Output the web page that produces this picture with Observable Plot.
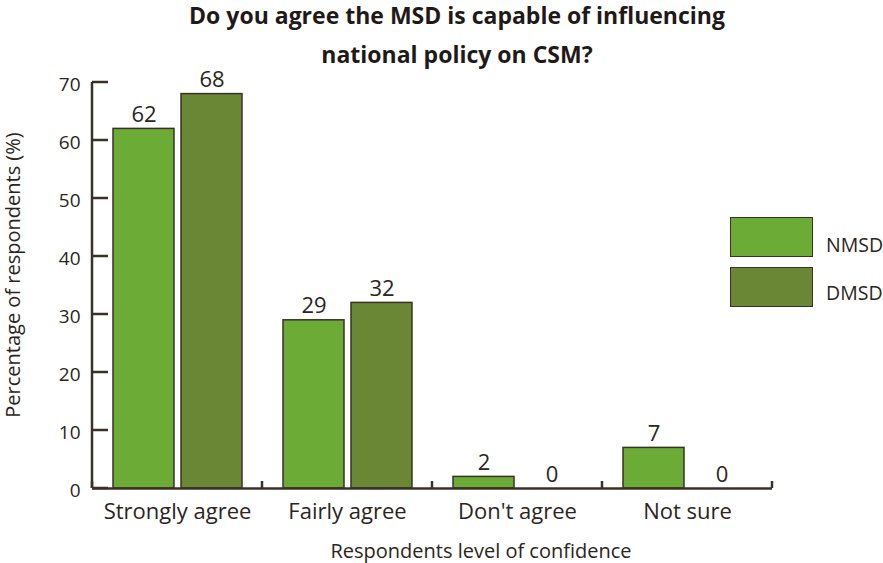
<!DOCTYPE html>
<html><head><meta charset="utf-8">
<script src="https://cdn.jsdelivr.net/npm/d3@7"></script>
<script src="https://cdn.jsdelivr.net/npm/@observablehq/plot@0.6"></script>
<style>
body{margin:0;background:#fff;font-family:"Open Sans",sans-serif;color:#2b2520}
#wrap{position:relative;width:883px;height:563px;overflow:hidden}
#title{position:absolute;left:0;top:-4px;width:914px;text-align:center;font-weight:bold;font-size:23px;line-height:39px;color:#1f1a17;z-index:2}
#plot{position:absolute;left:0;top:40px}
#xtitle{position:absolute;left:0;width:962px;top:538px;text-align:center;font-size:20px;line-height:26px}
.leg-box{position:absolute;left:730px;width:83px;height:40px;border:1.5px solid #3b3127;box-sizing:border-box}
.leg-txt{position:absolute;left:826px;font-size:19.5px;line-height:26px}
</style></head>
<body>
<div id="wrap">
  <div id="title">Do you agree the MSD is capable of influencing<br>national policy on CSM?</div>
  <div id="plot"></div>
  <div id="xtitle">Respondents level of confidence</div>
  <div id="legend"></div>
</div>
<script>
const categories = ["Strongly agree", "Fairly agree", "Don't agree", "Not sure"];
const series = ["NMSD", "DMSD"];
const nmsdValues = [62, 29, 2, 7];
const dmsdValues = [68, 32, 0, 0];
const yTicks = [0, 10, 20, 30, 40, 50, 60, 70];
const seriesColors = ["#6bab36", "#6a8735"];

const data = [];
categories.forEach((c, i) => {
  data.push({category: c, series: "NMSD", value: nmsdValues[i]});
  data.push({category: c, series: "DMSD", value: dmsdValues[i]});
});

const ink = "#3b3127";
const chart = Plot.plot({
  width: 883,
  height: 523,
  marginTop: 42,
  marginBottom: 75,
  marginLeft: 92,
  marginRight: 111,
  style: {fontFamily: "'Open Sans', sans-serif", color: "#2b2520", background: "transparent"},
  fx: {domain: categories, padding: 0},
  x: {domain: series, paddingInner: 0.103, paddingOuter: 0.30, axis: null},
  y: {domain: [0, 70]},
  color: {domain: series, range: seriesColors},
  marks: [
    Plot.barY(data, {fx: "category", x: "series", y: "value", fill: "series", stroke: ink, strokeWidth: 1.5}),
    Plot.text(data, {fx: "category", x: "series", y: "value", text: d => String(d.value), lineAnchor: "bottom", dy: -7, fontSize: 22, fill: "#2b2520"}),
    Plot.ruleY([0], {stroke: ink, strokeWidth: 2.5}),
    Plot.axisFx({anchor: "bottom", tickSize: 0, tickPadding: 15, fontSize: 22, label: null}),
    Plot.axisY({ticks: yTicks, tickSize: 0, tickPadding: 12, fontSize: 19, dy: 2, label: null})
  ]
});
document.getElementById("plot").appendChild(chart);

// axis line, inward y ticks and category boundary ticks from the plot's scales
const fx = chart.scale("fx"), y = chart.scale("y");
const svg = d3.select(chart);
const edges = categories.map(c => fx.apply(c));
edges.push(edges[edges.length - 1] + fx.bandwidth);
const g = svg.append("g").attr("stroke", ink).attr("stroke-width", 2.5).attr("fill", "none");
g.append("line").attr("x1", edges[0]).attr("x2", edges[0]).attr("y1", y.apply(0)).attr("y2", y.apply(70));
yTicks.forEach(t => g.append("line").attr("x1", edges[0]).attr("x2", edges[0] + 16).attr("y1", y.apply(t)).attr("y2", y.apply(t)));
edges.forEach(e => g.append("line").attr("x1", e).attr("x2", e).attr("y1", y.apply(0)).attr("y2", y.apply(0) - 7));
// y axis title
svg.append("text")
  .attr("transform", `translate(15,${(y.apply(0) + y.apply(70)) / 2 - 10}) rotate(-90)`)
  .attr("text-anchor", "middle").attr("dominant-baseline", "middle")
  .attr("font-size", 20).attr("fill", "#2b2520")
  .text("Percentage of respondents (%)");

// legend
const color = chart.scale("color");
const leg = document.getElementById("legend");
series.forEach((s, i) => {
  const b = document.createElement("div");
  b.className = "leg-box";
  b.style.top = (217 + i * 49.5) + "px";
  b.style.background = color.apply(s);
  leg.appendChild(b);
  const t = document.createElement("div");
  t.className = "leg-txt";
  t.style.top = (232 + i * 48) + "px";
  t.textContent = s;
  leg.appendChild(t);
});
</script>
</body></html>
